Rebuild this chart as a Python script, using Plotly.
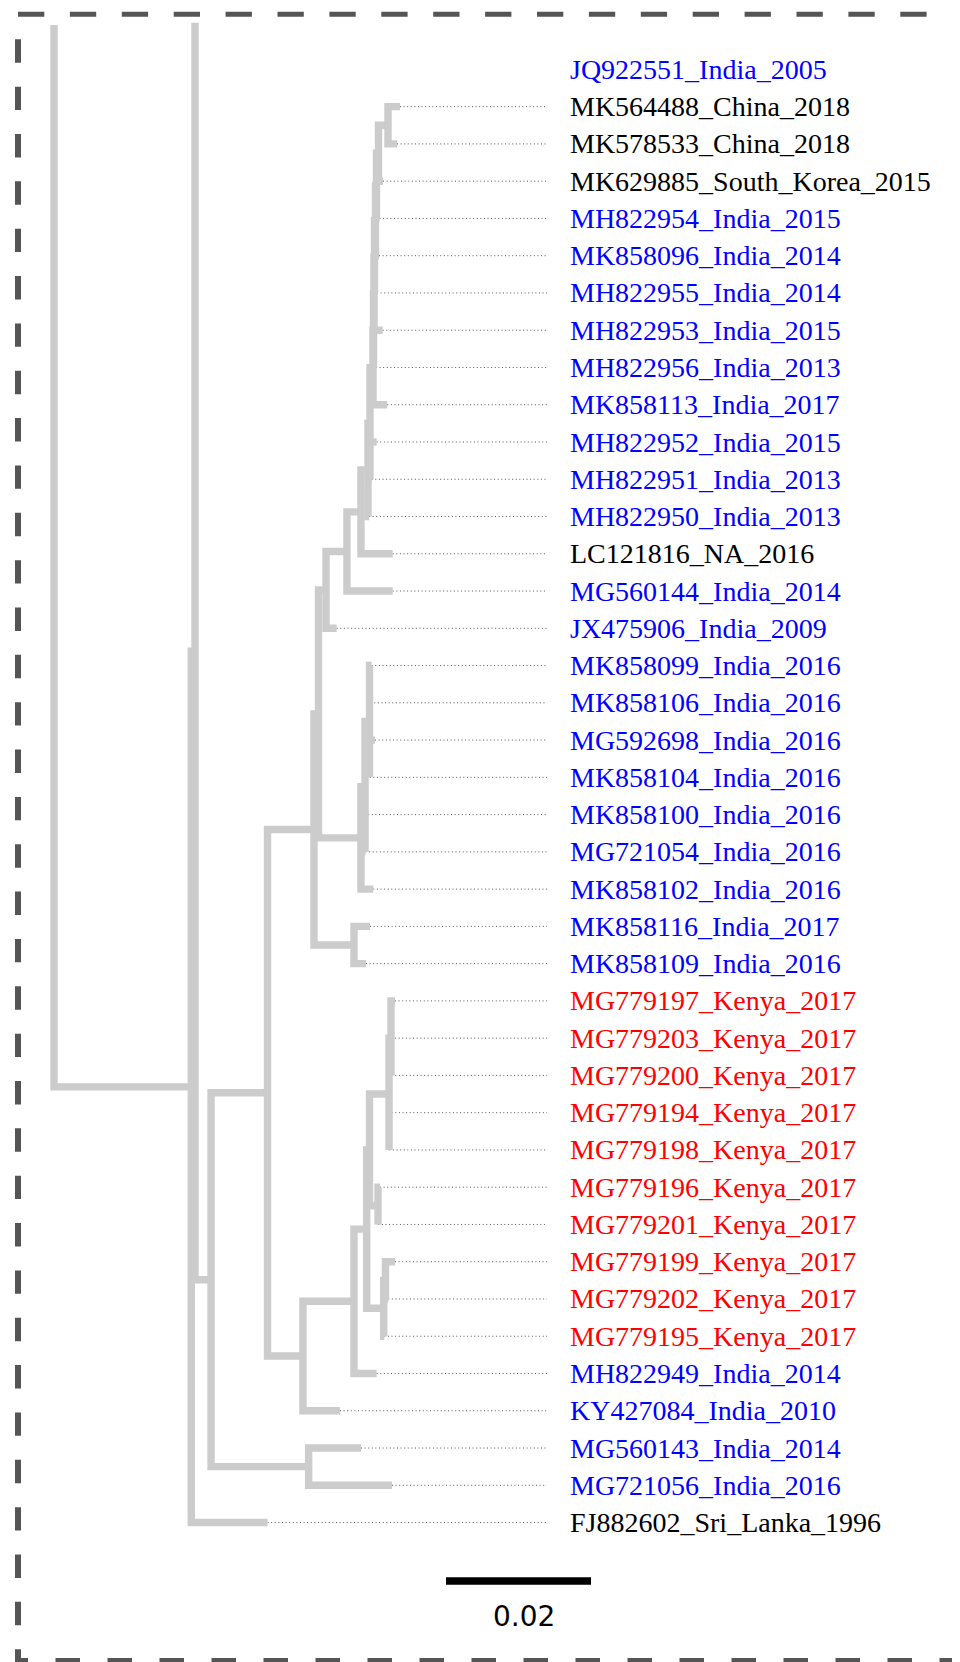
import plotly.graph_objects as go

# ---------------- data ----------------
leaf_labels = [
    "JQ922551_India_2005", "MK564488_China_2018", "MK578533_China_2018",
    "MK629885_South_Korea_2015", "MH822954_India_2015", "MK858096_India_2014",
    "MH822955_India_2014", "MH822953_India_2015", "MH822956_India_2013",
    "MK858113_India_2017", "MH822952_India_2015", "MH822951_India_2013",
    "MH822950_India_2013", "LC121816_NA_2016", "MG560144_India_2014",
    "JX475906_India_2009", "MK858099_India_2016", "MK858106_India_2016",
    "MG592698_India_2016", "MK858104_India_2016", "MK858100_India_2016",
    "MG721054_India_2016", "MK858102_India_2016", "MK858116_India_2017",
    "MK858109_India_2016", "MG779197_Kenya_2017", "MG779203_Kenya_2017",
    "MG779200_Kenya_2017", "MG779194_Kenya_2017", "MG779198_Kenya_2017",
    "MG779196_Kenya_2017", "MG779201_Kenya_2017", "MG779199_Kenya_2017",
    "MG779202_Kenya_2017", "MG779195_Kenya_2017", "MH822949_India_2014",
    "KY427084_India_2010", "MG560143_India_2014", "MG721056_India_2016",
    "FJ882602_Sri_Lanka_1996",
]
leaf_parent = [
    None, "N2", "N2", "N3", "N4", "N5", "N6", "N7", "N8", "N9",
    "N11", "N11", "N12", "N13", "N14", "N15",
    "C1a", "C1a", "C1a", "C1a", "C1b", "C1b", "C1", "C2", "C2",
    "K1a", "K1a", "K1a", "K1", "K1", "K2", "K2", "K3a", "K3a", "K3",
    "Kc", "Kd", "Kf", "Kf", "A",
]
leaf_tip = [
    None, 0.04772, 0.04731, 0.04538, 0.04490, 0.04483, 0.04455, 0.04534,
    0.04441, 0.04597, 0.04450, 0.04382, 0.04345, 0.04672, 0.04672, 0.03899,
    0.04382, 0.04368, 0.04428, 0.04355, 0.04334, 0.04297, 0.04404, 0.04359,
    0.04303, 0.04703, 0.04655, 0.04658, 0.04658, 0.04625, 0.04497, 0.04473,
    0.04703, 0.04611, 0.04556, 0.04450, 0.03945, 0.04234, 0.04662, 0.02946,
]

node_ids = ["R", "A", "Z", "B", "Ke", "N17", "N16", "N15", "N14", "N13",
            "N12", "N11", "N9", "N8", "N7", "N6", "N5", "N4", "N3", "N2",
            "C1", "C1b", "C1a", "C2", "Kd", "Kc", "Kb", "Ka", "K1", "K1a",
            "K2", "K3", "K3a", "Kf"]
node_parent = [None, "R", "A", "Z", "B", "Ke", "N17", "N16", "N15", "N14",
               "N13", "N12", "N11", "N9", "N8", "N7", "N6", "N5", "N4", "N3",
               "N16", "C1", "C1b", "N17", "Ke", "Kd", "Kc", "Kb", "Ka", "K1",
               "Ka", "Kb", "K3", "B"]
node_depth = [0.0, 0.01894, 0.01945, 0.02166, 0.02945, 0.03586, 0.03648,
              0.03752, 0.04041, 0.04234, 0.04331, 0.04359, 0.04400, 0.04407,
              0.04414, 0.04421, 0.04434, 0.04448, 0.04476, 0.04607,
              0.04234, 0.04290, 0.04352, 0.04138, 0.03434, 0.04138, 0.04313,
              0.04352, 0.04621, 0.04648, 0.04469, 0.04548, 0.04572, 0.03512]

# branches that run off the top of the figure (truncated), in tip-slot units
trunc_parent = ["R", "Z"]
trunc_slot = [-1.19, -1.25]

scale_length = 0.02
scale_label = "0.02"

# ---------------- layout constants (page pixels) ----------------
PAGE_W, PAGE_H = 960, 1662
OFF = 8                      # default body margin of the html page
W, H = PAGE_W - OFF, PAGE_H - OFF
PX_PER_UNIT = 7250.0
ROOT_PX = 54.0
SLOT0_PX = 69.4
SLOT_PX = 37.26
LEADER_END_PX = 547
LABEL_PX = 568
SCALEBAR_X0_PX = 446
SCALEBAR_Y_PX = 1581
SCALE_TEXT_Y_PX = 1616

TREE_COLOR = "#cccccc"
TREE_WIDTH = 7.4


def px2x(px):
    return (px - ROOT_PX) / PX_PER_UNIT


def px2y(py):
    return (py - SLOT0_PX) / SLOT_PX


def label_color(lbl):
    if "_India_" in lbl:
        return "#0000ff"
    if "_Kenya_" in lbl:
        return "#ff0000"
    return "#000000"


# ---------------- build tree geometry ----------------
depth = dict(zip(node_ids, node_depth))
children = {n: [] for n in node_ids}
for n, p in zip(node_ids, node_parent):
    if p is not None:
        children[p].append(("node", n))
for i, p in enumerate(leaf_parent):
    if p is not None:
        children[p].append(("leaf", i))
for p, s in zip(trunc_parent, trunc_slot):
    children[p].append(("trunc", s))

ycache = {}


def child_xy(parent, ch):
    kind, v = ch
    if kind == "leaf":
        return leaf_tip[v], float(v)
    if kind == "trunc":
        return depth[parent], v
    return depth[v], node_y(v)


def node_y(n):
    if n not in ycache:
        ys = [child_xy(n, c)[1] for c in children[n]]
        ycache[n] = (min(ys) + max(ys)) / 2.0
    return ycache[n]


tx, ty = [], []
for n in node_ids:
    pts = sorted((child_xy(n, c) for c in children[n]), key=lambda t: t[1])
    x0 = depth[n]
    first, last = pts[0], pts[-1]
    tx += [first[0], x0, x0, last[0], None]
    ty += [first[1], first[1], last[1], last[1], None]
    for cx, cy in pts[1:-1]:
        tx += [x0, cx, None]
        ty += [cy, cy, None]

lx, ly = [], []
for i, t in enumerate(leaf_tip):
    if t is not None:
        lx += [t, px2x(LEADER_END_PX), None]
        ly += [i, i, None]

fig = go.Figure()
fig.add_trace(go.Scatter(x=lx, y=ly, mode="lines", hoverinfo="skip",
                         line=dict(color="#555555", width=1, dash="1px,2.6px")))
fig.add_trace(go.Scatter(x=tx, y=ty, mode="lines", hoverinfo="skip",
                         line=dict(color=TREE_COLOR, width=TREE_WIDTH)))

# scale bar
sb_x0 = px2x(SCALEBAR_X0_PX)
sb_y = px2y(SCALEBAR_Y_PX)
fig.add_trace(go.Scatter(x=[sb_x0, sb_x0 + scale_length], y=[sb_y, sb_y],
                         mode="lines", hoverinfo="skip",
                         line=dict(color="#000000", width=7.7)))

annotations = []
for i, lbl in enumerate(leaf_labels):
    annotations.append(dict(
        x=px2x(LABEL_PX), y=i, xref="x", yref="y", text=lbl,
        showarrow=False, xanchor="left", yanchor="middle",
        font=dict(family="Liberation Serif", size=28, color=label_color(lbl)),
    ))
annotations.append(dict(
    x=sb_x0 + scale_length / 2, y=px2y(SCALE_TEXT_Y_PX), xref="x", yref="y",
    text=scale_label, showarrow=False, xanchor="center", yanchor="middle",
    xshift=5, font=dict(family="DejaVu Sans", size=28, color="#000000"),
))

# dashed frame (page pixel positions converted to paper fractions)
BORDER = "#555555"


def hline(x0px, x1px, ypx, width, dash):
    return dict(type="line", xref="paper", yref="paper",
                x0=(x0px - OFF) / W, x1=(x1px - OFF) / W,
                y0=1 - (ypx - OFF) / H, y1=1 - (ypx - OFF) / H,
                line=dict(color=BORDER, width=width, dash=dash))


def vline(xpx, y0px, y1px, width, dash):
    return dict(type="line", xref="paper", yref="paper",
                x0=(xpx - OFF) / W, x1=(xpx - OFF) / W,
                y0=1 - (y0px - OFF) / H, y1=1 - (y1px - OFF) / H,
                line=dict(color=BORDER, width=width, dash=dash))


shapes = [
    hline(18, 962, 14.2, 5, "26.3px,25.6px"),
    hline(964, 15, 1660.5, 5, "24.5px,27.5px"),
    vline(18, 39.3, 1662, 6, "23.4px,23.95px"),
    vline(961, 51, 1662, 6, "23.4px,23.95px"),
]

fig.update_layout(
    width=W, height=H,
    margin=dict(l=0, r=0, t=0, b=0),
    paper_bgcolor="white", plot_bgcolor="white",
    showlegend=False,
    xaxis=dict(visible=False, range=[px2x(OFF), px2x(PAGE_W)], fixedrange=True),
    yaxis=dict(visible=False, range=[px2y(PAGE_H), px2y(OFF)], fixedrange=True),
    annotations=annotations,
    shapes=shapes,
)

fig.write_html("out.html")
